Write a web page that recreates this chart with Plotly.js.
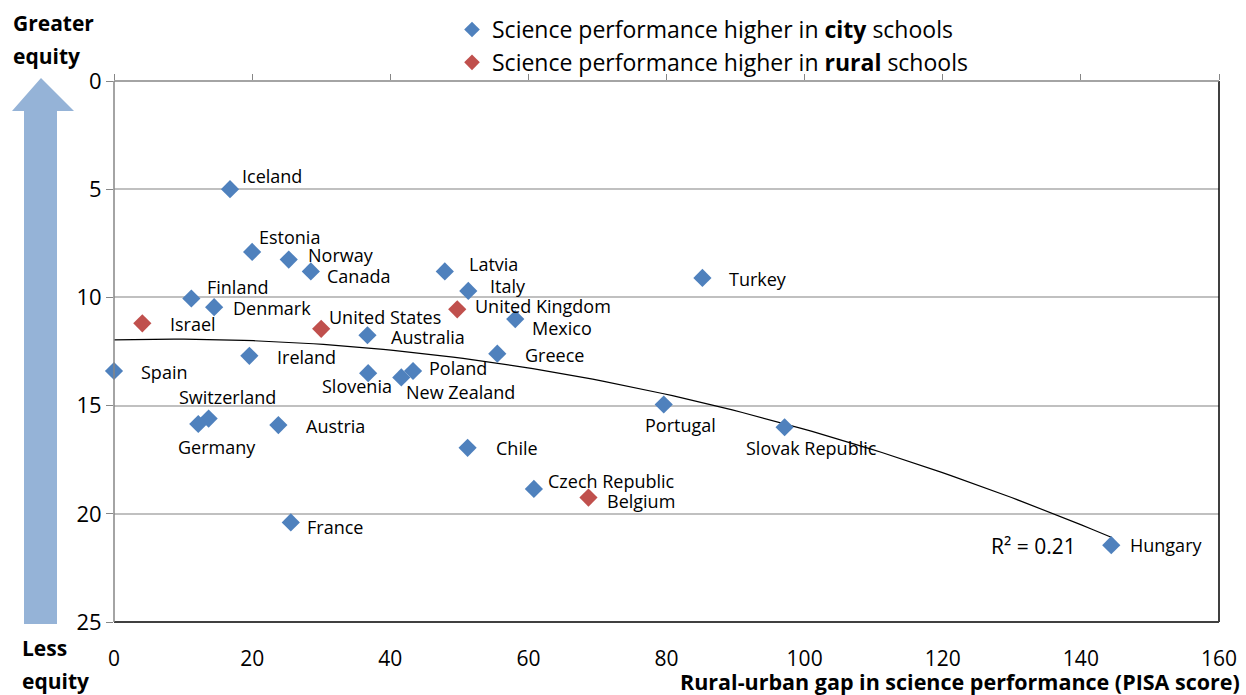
<!DOCTYPE html>
<html>
<head>
<meta charset="utf-8">
<script src="https://cdn.plot.ly/plotly-3.0.1.min.js"></script>
<style>html,body{margin:0;padding:0;background:#fff;}#chart{width:1246px;height:695px;}</style>
</head>
<body>
<div id="chart"></div>
<script>
// ---- data ----
const countries = ["Iceland","Estonia","Norway","Canada","Finland","Denmark","Israel","United States","Australia","Latvia","Italy","United Kingdom","Mexico","Ireland","Spain","Greece","Slovenia","New Zealand","Poland","Switzerland","Germany","Austria","Chile","France","Czech Republic","Belgium","Turkey","Portugal","Slovak Republic","Hungary"];
const gapScore = [16.8,20.0,25.3,28.5,11.2,14.5,4.1,30.0,36.7,47.9,51.3,49.7,58.1,19.6,0.0,55.5,36.8,41.6,43.3,13.7,12.2,23.8,51.2,25.6,60.8,68.7,85.2,79.6,97.1,144.4];
const equity = [5.0,7.9,8.25,8.8,10.05,10.45,11.2,11.45,11.75,8.8,9.7,10.55,11.0,12.7,13.4,12.6,13.5,13.7,13.4,15.6,15.85,15.9,16.95,20.4,18.85,19.25,9.1,14.95,16.0,21.45];
const higherIn = ["city","city","city","city","city","city","rural","rural","city","city","city","rural","city","city","city","city","city","city","city","city","city","city","city","city","city","rural","city","city","city","city"];
const xTicks = [0,20,40,60,80,100,120,140,160];
const yTicks = [0,5,10,15,20,25];
const legendNames = {city:"Science performance higher in <b>city</b> schools", rural:"Science performance higher in <b>rural</b> schools"};
const r2Text = "R² = 0.21";

// ---- label placement (styling): [xanchor, dx px, dy px (down)] ----
const labelPlacement = [
 ["left",10,-13],["left",5,-15],["left",17,-5],["left",14,5],["left",14,-11],["left",17,1],["left",26,1],["left",6,-12],["left",22,2],["left",22,-7],["left",20,-5],["left",16,-3],["left",15,9],["left",26,1],["left",25,1],["left",26,1],["right",26,13],["left",3,15],["left",14,-3],["left",-32,-22],["left",-22,23],["left",26,1],["left",26,0],["left",14,5],["left",12,-8],["left",17,3],["left",25,1],["center",17,20],["left",-41,21],["left",17,0]
];

// ---- quadratic trend (least squares, from the data) ----
function polyfit2(xs, ys){
  let S=[0,0,0,0,0], T=[0,0,0];
  for(let i=0;i<xs.length;i++){
    const x=xs[i], y=ys[i];
    for(let k=0;k<5;k++) S[k]+=Math.pow(x,k);
    for(let k=0;k<3;k++) T[k]+=y*Math.pow(x,k);
  }
  const A=[[S[0],S[1],S[2],T[0]],[S[1],S[2],S[3],T[1]],[S[2],S[3],S[4],T[2]]];
  for(let c=0;c<3;c++){
    for(let r=c+1;r<3;r++){const f=A[r][c]/A[c][c]; for(let k=c;k<4;k++) A[r][k]-=f*A[c][k];}
  }
  const s=[0,0,0];
  for(let r=2;r>=0;r--){let v=A[r][3]; for(let k=r+1;k<3;k++) v-=A[r][k]*s[k]; s[r]=v/A[r][r];}
  return s;
}
const coef = polyfit2(gapScore, equity);
const xmax = Math.max(...gapScore), xmin = Math.min(...gapScore);
const trendX = [], trendY = [];
for(let i=0;i<=100;i++){const x=xmin+(xmax-xmin)*i/100; trendX.push(x); trendY.push(coef[0]+coef[1]*x+coef[2]*x*x);}

const colors = {city:"#4f81bd", rural:"#c0504d"};
const FONT = "'Open Sans', sans-serif";

function group(kind){
  const xs=[],ys=[],ts=[];
  countries.forEach((c,i)=>{ if(higherIn[i]===kind){xs.push(gapScore[i]);ys.push(equity[i]);ts.push(c);} });
  return {type:"scatter",mode:"markers",x:xs,y:ys,text:ts,name:legendNames[kind],cliponaxis:false,
    marker:{symbol:"diamond",size:14,color:colors[kind]},hoverinfo:"text+x+y"};
}

const traces = [
  {type:"scatter",mode:"lines",x:trendX,y:trendY,line:{color:"#000",width:1.2},showlegend:false,hoverinfo:"skip"},
  group("city"), group("rural"),
  {type:"scatter",mode:"markers",x:[0],y:[0],xaxis:"x2",marker:{opacity:0},showlegend:false,hoverinfo:"skip"}
];

const annotations = countries.map((c,i)=>({
  x:gapScore[i], y:equity[i], text:c, showarrow:false,
  xanchor:labelPlacement[i][0], yanchor:"middle",
  xshift:labelPlacement[i][1], yshift:-labelPlacement[i][2],
  font:{family:FONT,size:18,color:"#000"}
}));

// plot area: x 114..1219 px, y 81..622 px
const L=114, R=1219, T=81, B=622;
const px=(p)=>(p-L)/(R-L), py=(p)=>(B-p)/(B-T);

function note(x,y,text,anchor,size){
  annotations.push({x:px(x),y:py(y),xref:"paper",yref:"paper",text:text,showarrow:false,xanchor:anchor,yanchor:"middle",font:{family:FONT,size:size,color:"#000"}});
}
note(1078,546,r2Text,"right",21);
note(11,23,"<b>Greater</b>","left",21);
note(11,56,"<b>equity</b>","left",21);
note(20,648,"<b>Less</b>","left",21);
note(20,681,"<b>equity</b>","left",21);
note(1242,681,"<b>Rural-urban gap in science performance (PISA score)</b>","right",21.5);

const arrowPath = "M "+px(24)+" "+py(624)+" L "+px(57)+" "+py(624)+" L "+px(57)+" "+py(111)+" L "+px(74)+" "+py(111)+" L "+px(41)+" "+py(78)+" L "+px(12)+" "+py(111)+" L "+px(24)+" "+py(111)+" Z";

const shapes = [
  {type:"path",xref:"paper",yref:"paper",path:arrowPath,fillcolor:"#95b3d7",line:{width:0}},
  {type:"line",xref:"paper",yref:"paper",x0:1,x1:1,y0:0,y1:1,line:{color:"#000",width:1.5}},
  {type:"line",xref:"paper",yref:"paper",x0:0,x1:1,y0:0,y1:0,line:{color:"#404040",width:2}},
  {type:"line",xref:"paper",yref:"paper",x0:0,x1:1,y0:1,y1:1,line:{color:"#868686",width:1.5}},
  {type:"line",xref:"paper",yref:"paper",x0:0,x1:0,y0:0,y1:1,line:{color:"#868686",width:1.5}}
];

const layout = {
  width:1246, height:695,
  margin:{l:L, r:1246-R, t:T, b:695-B, pad:0, autoexpand:false},
  paper_bgcolor:"#fff", plot_bgcolor:"#fff",
  font:{family:FONT,color:"#000"},
  showlegend:true,
  legend:{x:px(452),y:py(8),xanchor:"left",yanchor:"top",orientation:"v",font:{family:FONT,size:23,color:"#000"},bgcolor:"rgba(0,0,0,0)",tracegroupgap:0,itemsizing:"constant"},
  xaxis:{range:[0,160],tickvals:xTicks,ticktext:xTicks.map(String),ticks:"outside",ticklen:18,tickcolor:"rgba(0,0,0,0)",showgrid:false,zeroline:false,showline:false,tickfont:{family:FONT,size:21,color:"#000"},fixedrange:true,automargin:false},
  xaxis2:{range:[0,160],overlaying:"x",side:"top",tickvals:xTicks,ticks:"outside",ticklen:6,tickcolor:"#868686",showticklabels:false,showgrid:false,zeroline:false,showline:false,automargin:false},
  yaxis:{range:[25,0],tickvals:yTicks,ticktext:yTicks.map(String),ticks:"outside",ticklen:7,tickcolor:"#868686",showgrid:true,gridcolor:"#c0c0c0",gridwidth:1.5,zeroline:false,showline:false,tickfont:{family:FONT,size:22,color:"#000"},automargin:false},
  annotations:annotations,
  shapes:shapes
};

Plotly.newPlot("chart", traces, layout, {displayModeBar:false, staticPlot:false});
</script>
</body>
</html>
